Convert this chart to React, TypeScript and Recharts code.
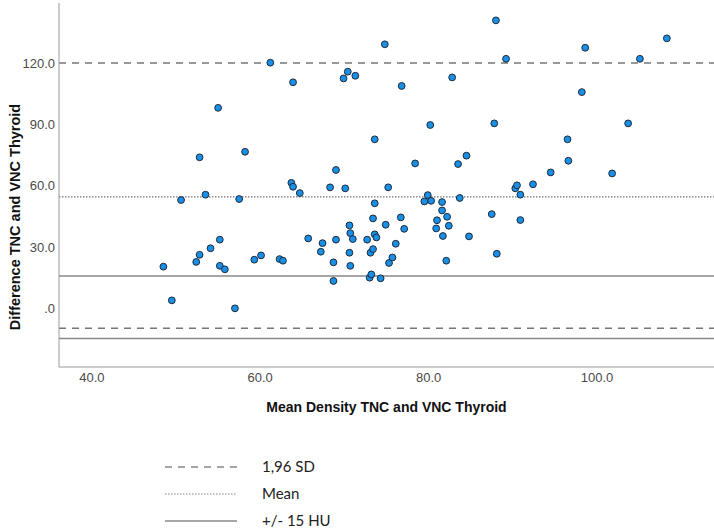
import { ReferenceLine, Scatter, ScatterChart, XAxis, YAxis } from "recharts";

// Bland-Altman: mean density vs difference (TNC - VNC), thyroid
const meanDensity = [
  48.5, 49.5, 50.6, 52.4, 52.8, 52.8, 53.5, 54.1, 55.0, 55.2,
  55.2, 55.8, 57.0, 57.5, 58.2, 59.3, 60.1, 61.2, 62.3, 62.7,
  63.7, 63.9, 63.9, 64.7, 65.7, 67.2, 67.4, 68.3, 68.7, 68.7,
  69.0, 69.0, 69.9, 70.1, 70.4, 70.6, 70.6, 70.7, 70.7, 71.0,
  71.3, 72.7, 73.0, 73.1, 73.2, 73.4, 73.4, 73.6, 73.6, 73.6,
  73.8, 74.3, 74.8, 74.9, 75.2, 75.3, 75.7, 76.1, 76.7, 76.8,
  77.1, 78.4, 79.5, 79.9, 80.2, 80.3, 80.9, 81.0, 81.6, 81.6,
  81.7, 82.1, 82.2, 82.4, 82.8, 83.5, 83.7, 84.5, 84.8, 87.5,
  87.8, 88.0, 88.1, 89.2, 90.3, 90.5, 90.9, 90.9, 92.4, 94.5,
  96.5, 96.6, 98.2, 98.6, 101.8, 103.7, 105.1, 108.3,
];

const difference = [
  20.4, 3.9, 53.0, 22.7, 26.2, 73.9, 55.6, 29.4, 98.1, 33.6,
  20.8, 19.1, 0.0, 53.5, 76.6, 23.8, 25.9, 120.2, 24.1, 23.3,
  61.4, 59.5, 110.6, 56.4, 34.2, 27.7, 31.9, 59.2, 22.5, 13.4,
  67.7, 33.6, 112.5, 58.7, 115.8, 40.6, 27.2, 36.8, 20.8, 33.9,
  113.8, 33.6, 15.0, 27.2, 16.6, 44.0, 29.0, 82.7, 51.4, 36.2,
  34.7, 14.7, 129.2, 40.9, 59.2, 22.2, 24.9, 31.6, 44.5, 108.8,
  38.9, 70.9, 52.3, 55.4, 89.7, 52.6, 39.1, 43.1, 52.0, 47.9,
  35.4, 23.3, 44.8, 40.4, 113.0, 70.6, 54.0, 74.7, 35.2, 46.1,
  90.5, 140.9, 26.7, 122.1, 58.7, 60.2, 55.6, 43.2, 60.7, 66.5,
  82.7, 72.2, 105.8, 127.5, 66.0, 90.5, 122.1, 132.1,
];

const xTicks = [40, 60, 80, 100];
const yTicks = [0, 30, 60, 90, 120];

const sdLimits = [120, -9.8];
const meanDiff = 54.5;
const huLimits = [15.8, -14.7];

const legendItems = [
  { label: "1,96 SD", dash: "7 6", width: 1.5 },
  { label: "Mean", dash: "1.5 1.5", width: 1.2 },
  { label: "+/- 15 HU", dash: undefined, width: 1.5 },
];

const points = meanDensity.map((x, i) => ({ x, y: difference[i] }));

const axisFont = "'Liberation Sans', Arial, sans-serif";
const fmt = (v: number) => (v === 0 ? ".0" : v.toFixed(1));

const Dot = (props: any) => (
  <circle
    cx={props.cx}
    cy={props.cy}
    r={3.4}
    fill="#1a8fe6"
    stroke="#1d2b3a"
    strokeWidth={1}
  />
);

export default function App() {
  return (
    <div
      style={{
        position: "absolute",
        left: 0,
        top: 0,
        width: 714,
        height: 530,
        background: "#fff",
      }}
    >
      <ScatterChart
        width={714}
        height={530}
        margin={{ top: 3, right: 0, bottom: 133, left: 0 }}
      >
        <XAxis
          dataKey="x"
          type="number"
          domain={[36.1, 113.9]}
          ticks={xTicks}
          allowDataOverflow
          tickFormatter={fmt}
          height={30}
          tickLine={false}
          tickSize={4}
          tickMargin={2}
          axisLine={{ stroke: "#999" }}
          tick={{ fill: "#4a4a4a", fontSize: 13, fontFamily: axisFont }}
          label={{
            content: ({ viewBox }: any) => (
              <text
                x={viewBox.x + viewBox.width / 2}
                y={412}
                textAnchor="middle"
                fontFamily={axisFont}
                fontSize={14}
                fontWeight="bold"
                fill="#111"
              >
                Mean Density TNC and VNC Thyroid
              </text>
            ),
          }}
        />
        <YAxis
          dataKey="y"
          type="number"
          domain={[-28.7, 149.4]}
          ticks={yTicks}
          allowDataOverflow
          tickFormatter={fmt}
          width={59}
          tickLine={false}
          tickSize={2}
          tickMargin={2}
          axisLine={{ stroke: "#999" }}
          tick={{ fill: "#4a4a4a", fontSize: 13, fontFamily: axisFont }}
          label={{
            content: () => (
              <text
                x={20}
                y={217}
                transform="rotate(-90, 20, 217)"
                textAnchor="middle"
                fontFamily={axisFont}
                fontSize={14.5}
                fontWeight="bold"
                fill="#111"
              >
                Difference TNC and VNC Thyroid
              </text>
            ),
          }}
        />
        {sdLimits.map((v) => (
          <ReferenceLine
            key={`sd-${v}`}
            y={v}
            stroke="#777"
            strokeWidth={1.5}
            strokeDasharray="7 6"
          />
        ))}
        <ReferenceLine
          y={meanDiff}
          stroke="#777"
          strokeWidth={1.2}
          strokeDasharray="1.5 1.5"
        />
        {huLimits.map((v) => (
          <ReferenceLine key={`hu-${v}`} y={v} stroke="#888" strokeWidth={1.5} />
        ))}
        <Scatter data={points} shape={Dot} isAnimationActive={false} />
      </ScatterChart>
      <svg
        width={714}
        height={110}
        style={{ position: "absolute", left: 0, top: 440 }}
      >
        {legendItems.map((item, i) => {
          const y = 27 + i * 27;
          return (
            <g key={item.label}>
              <line
                x1={165}
                x2={237}
                y1={y}
                y2={y}
                stroke="#888"
                strokeWidth={item.width}
                strokeDasharray={item.dash}
              />
              <text
                x={262}
                y={y + 5}
                fontFamily="Lato, 'Open Sans', sans-serif"
                fontSize={15}
                fill="#222"
              >
                {item.label}
              </text>
            </g>
          );
        })}
      </svg>
    </div>
  );
}
